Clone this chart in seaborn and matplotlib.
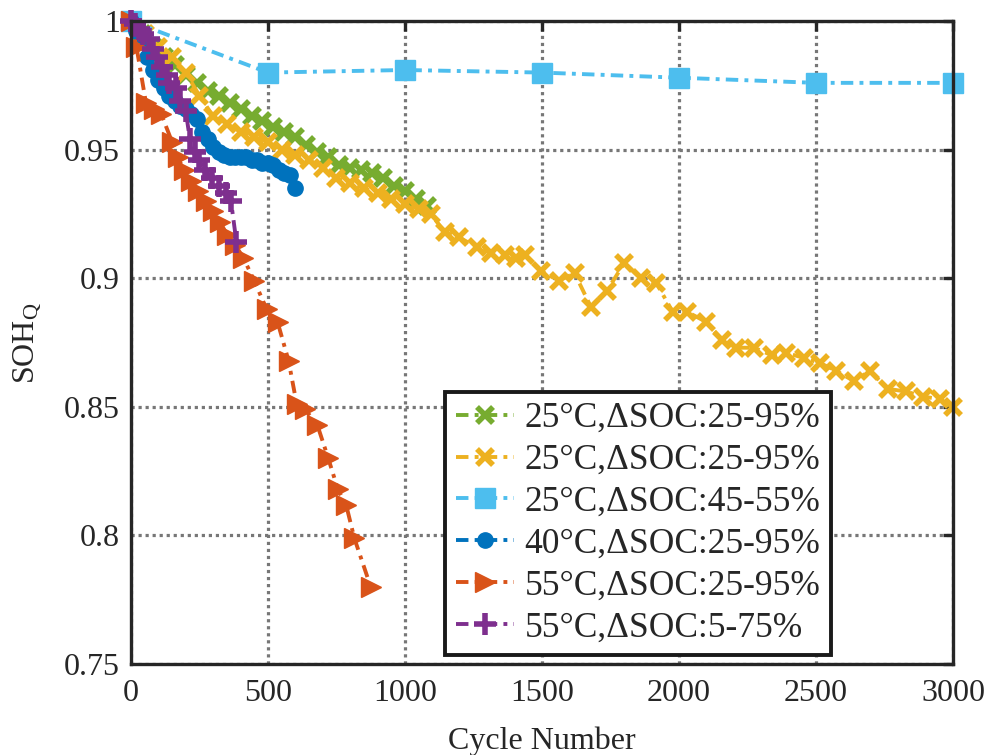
import numpy as np
import pandas as pd
import seaborn as sns
import matplotlib.pyplot as plt
from matplotlib.ticker import FuncFormatter

# Values (cycle number vs SOH_Q)

green_cycles = [0, 40, 80, 120, 160, 200, 240, 280, 320, 360, 400, 440, 480, 520,
                560, 600, 640, 680, 720, 760, 800, 840, 880, 920, 960, 1000, 1040, 1080]
green_soh = [1.000, 0.995, 0.990, 0.986, 0.983, 0.979, 0.976, 0.973, 0.971, 0.968,
             0.966, 0.963, 0.961, 0.959, 0.957, 0.955, 0.952, 0.949, 0.947, 0.944,
             0.943, 0.942, 0.941, 0.939, 0.936, 0.934, 0.931, 0.928]

yellow_cycles = [0, 50, 100, 150, 200, 250, 300, 350, 400, 450, 500, 550, 600, 650,
                 700, 750, 800, 850, 900, 950, 1000, 1050, 1094, 1145, 1197, 1262,
                 1314, 1366, 1405, 1438, 1496, 1561, 1619, 1678, 1736, 1801, 1860,
                 1918, 1977, 2029, 2100, 2158, 2210, 2275, 2340, 2392, 2457, 2516,
                 2574, 2639, 2697, 2762, 2827, 2892, 2951, 3000]
yellow_soh = [1.000, 0.995, 0.990, 0.986, 0.980, 0.971, 0.963, 0.960, 0.957, 0.955,
              0.953, 0.950, 0.948, 0.946, 0.943, 0.939, 0.937, 0.935, 0.933, 0.931,
              0.929, 0.927, 0.925, 0.918, 0.916, 0.912, 0.910, 0.909, 0.908, 0.909,
              0.903, 0.899, 0.902, 0.889, 0.895, 0.906, 0.900, 0.898, 0.887, 0.887,
              0.883, 0.876, 0.873, 0.873, 0.870, 0.871, 0.869, 0.867, 0.864, 0.860,
              0.864, 0.857, 0.856, 0.854, 0.853, 0.850]

lblue_cycles = [0, 500, 1000, 1500, 2000, 2500, 3000]
lblue_soh = [1.000, 0.980, 0.981, 0.980, 0.978, 0.976, 0.976]

blue_cycles = [0, 20, 40, 60, 80, 100, 120, 140, 160, 180, 200, 220, 240, 260, 280,
               300, 320, 340, 360, 380, 400, 420, 440, 460, 480, 500, 520, 540, 560,
               580, 600]
blue_soh = [1.000, 0.996, 0.992, 0.986, 0.981, 0.977, 0.974, 0.971, 0.969, 0.967,
            0.966, 0.964, 0.962, 0.957, 0.954, 0.951, 0.949, 0.948, 0.947, 0.947,
            0.947, 0.947, 0.946, 0.946, 0.945, 0.945, 0.944, 0.942, 0.941, 0.940, 0.935]

orange_cycles = [0, 20, 55, 85, 110, 150, 170, 195, 220, 245, 275, 300, 325, 350, 380,
                 410, 450, 495, 535, 575, 605, 635, 680, 720, 755, 785, 815, 875]
orange_soh = [1.000, 0.990, 0.968, 0.966, 0.964, 0.953, 0.947, 0.942, 0.938, 0.934,
              0.930, 0.926, 0.922, 0.917, 0.913, 0.908, 0.899, 0.888, 0.883, 0.868,
              0.851, 0.849, 0.843, 0.830, 0.818, 0.812, 0.799, 0.780]

purple_cycles = [0, 15, 30, 45, 65, 80, 95, 115, 130, 140, 165, 180, 200, 215, 235,
                 250, 270, 295, 320, 345, 365, 385]
purple_soh = [1.000, 0.999, 0.997, 0.995, 0.993, 0.989, 0.986, 0.982, 0.979, 0.976,
              0.974, 0.969, 0.965, 0.954, 0.949, 0.946, 0.942, 0.939, 0.936, 0.933,
              0.930, 0.914]

labels = ["25°C,ΔSOC:25-95%", "25°C,ΔSOC:25-95%", "25°C,ΔSOC:45-55%",
          "40°C,ΔSOC:25-95%", "55°C,ΔSOC:25-95%", "55°C,ΔSOC:5-75%"]

x_ticks = [0, 500, 1000, 1500, 2000, 2500, 3000]
y_ticks = [0.75, 0.8, 0.85, 0.9, 0.95, 1.0]

# Style

sns.set_style("white")
plt.rcParams["font.family"] = ["Liberation Serif", "DejaVu Serif"]
plt.rcParams["mathtext.fontset"] = "custom"
plt.rcParams["mathtext.rm"] = "Liberation Serif"
plt.rcParams["mathtext.it"] = "Liberation Serif:italic"

# (cycles, soh, colour, marker, size, edge width)
series = [
    (green_cycles, green_soh, "#77AC30", "x", 12, 4.0),
    (yellow_cycles, yellow_soh, "#EDB120", "x", 12, 4.0),
    (lblue_cycles, lblue_soh, "#4DBEEE", "s", 14, 1.0),
    (blue_cycles, blue_soh, "#0072BD", "o", 11, 1.0),
    (orange_cycles, orange_soh, "#D95319", ">", 14, 1.0),
    (purple_cycles, purple_soh, "#7E2F8E", "+", 16, 4.0),
]

fig, ax = plt.subplots(figsize=(9.87, 7.55), dpi=100)
fig.subplots_adjust(left=0.1327, right=0.9655, top=0.972, bottom=0.1205)

for (cyc, soh, col, mk, ms, mew), lab in zip(series, labels):
    df = pd.DataFrame({"cycle": cyc, "soh": soh})
    sns.lineplot(data=df, x="cycle", y="soh", ax=ax, estimator=None, sort=False,
                 color=col, marker=mk, markersize=ms, markeredgewidth=mew,
                 markeredgecolor=col, markerfacecolor=col,
                 label=lab, clip_on=False)
    ln = ax.lines[-1]
    ln.set_linewidth(2.8)
    ln.set_linestyle((0, (3.2, 1.6, 1.0, 1.6)))

ax.set_xlim(0, 3000)
ax.set_ylim(0.75, 1.0)
ax.set_xticks(x_ticks)
ax.set_yticks(y_ticks)
ax.yaxis.set_major_formatter(FuncFormatter(lambda v, p: f"{v:g}"))
ax.xaxis.set_major_formatter(FuncFormatter(lambda v, p: f"{v:g}"))

ax.grid(True, color="#777777", linestyle=(0, (1, 1.2)), linewidth=2.3)
ax.set_axisbelow(True)
for s in ax.spines.values():
    s.set_visible(True)
    s.set_color("#262626")
    s.set_linewidth(2.4)
ax.tick_params(direction="in", length=7, width=2.4, top=True, right=True,
               labelsize=23, color="#262626")
ax.tick_params(axis="x", pad=11)
ax.tick_params(axis="y", pad=8)

ax.set_xlabel("Cycle Number", fontsize=23, labelpad=13)
ax.set_ylabel(r"SOH$_\mathrm{Q}$", fontsize=23, labelpad=15)

leg = ax.legend(loc="lower left", bbox_to_anchor=(0.382, 0.014), borderaxespad=0,
                fontsize=25.5, handlelength=1.65, handletextpad=0.3, labelspacing=0.25,
                borderpad=0.3, fancybox=False, framealpha=1, edgecolor="#1a1a1a")
leg.get_frame().set_linewidth(2.8)

fig.savefig("out.png", dpi=100)
